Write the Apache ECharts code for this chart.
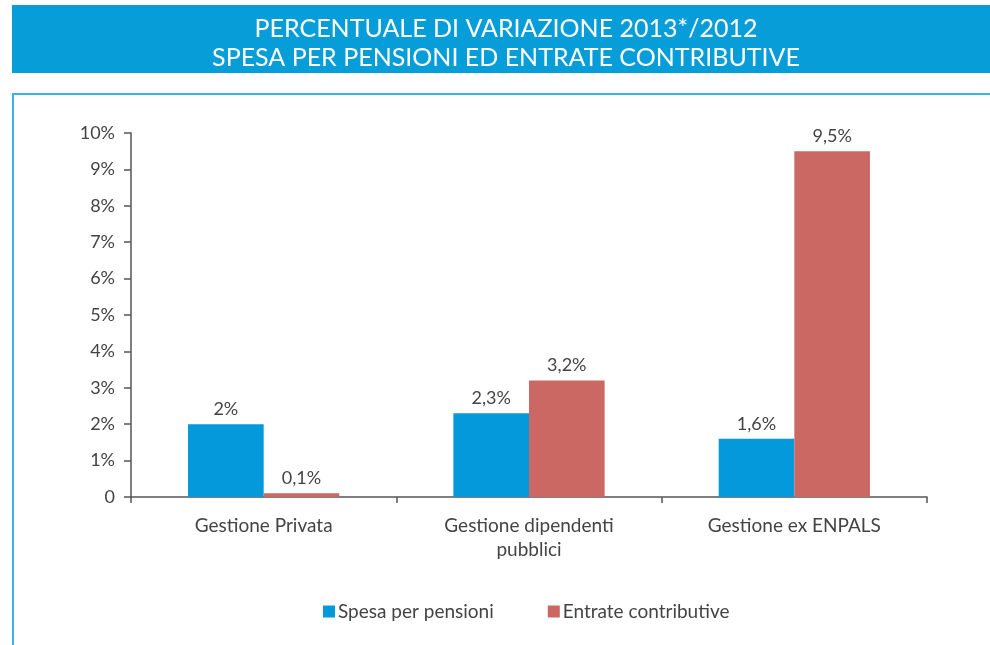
<!DOCTYPE html>
<html>
<head>
    <meta charset="utf-8">
    <title>Percentuale di variazione 2013*/2012</title>
    <script src="https://cdn.jsdelivr.net/npm/echarts@6/dist/echarts.min.js"></script>
    <style>
        html, body { margin: 0; padding: 0; background: #fff; }
        #chart { width: 990px; height: 645px; }
    </style>
</head>
<body>
    <div id="chart"></div>
    <script>
    // dati
    let categorie = ['Gestione Privata', 'Gestione dipendenti\npubblici', 'Gestione ex ENPALS'];
    let spesaPensioni = [2, 2.3, 1.6];
    let entrateContributive = [0.1, 3.2, 9.5];
    let nomiSerie = ['Spesa per pensioni', 'Entrate contributive'];

    let blu = '#0399db';
    let rosso = '#cb6863';
    let grigio = '#444';
    let font = 'Lato, "Open Sans", sans-serif';

    function percentuale(v) {
        return (String(v).replace('.', ',')) + '%';
    }

    let chart = echarts.init(document.getElementById('chart'));
    let option = {
        animation: false,
        textStyle: { fontFamily: font },
        graphic: [
            {
                type: 'rect',
                shape: { x: 12, y: 5, width: 980, height: 68 },
                style: { fill: '#079dd9' },
                z: -1
            },
            {
                type: 'rect',
                shape: { x: 13, y: 94, width: 990, height: 600 },
                style: { fill: 'none', stroke: '#3db2e6', lineWidth: 2 },
                z: -1
            }
        ],
        title: {
            text: 'PERCENTUALE DI VARIAZIONE 2013*/2012\nSPESA PER PENSIONI ED ENTRATE CONTRIBUTIVE',
            left: 501,
            top: 9,
            textAlign: 'center',
            textStyle: {
                color: '#fff',
                fontSize: 25,
                fontWeight: 'normal',
                lineHeight: 29,
                fontFamily: font
            }
        },
        legend: {
            data: nomiSerie,
            top: 597,
            left: 318,
            itemWidth: 12,
            itemHeight: 12,
            itemGap: 54,
            icon: 'rect',
            textStyle: { fontSize: 19, color: grigio, fontFamily: font, padding: [0, 0, 0, -2] }
        },
        grid: { left: 131, right: 63, top: 133, bottom: 148 },
        xAxis: {
            type: 'category',
            data: categorie,
            axisLine: { lineStyle: { color: '#555', width: 1.5 } },
            axisTick: { show: true, length: 6, lineStyle: { color: '#555', width: 1.5 } },
            axisLabel: { color: grigio, fontSize: 19, margin: 17, lineHeight: 24, interval: 0 }
        },
        yAxis: {
            type: 'value',
            min: 0,
            max: 10,
            interval: 1,
            splitLine: { show: false },
            axisLine: { show: true, lineStyle: { color: '#555', width: 1.5 } },
            axisTick: { show: true, length: 7, lineStyle: { color: '#555', width: 1.5 } },
            axisLabel: {
                color: grigio,
                fontSize: 18,
                margin: 16,
                formatter: function (v) { return v === 0 ? '0' : v + '%'; }
            }
        },
        series: [
            {
                name: nomiSerie[0],
                type: 'bar',
                data: spesaPensioni,
                barGap: 0,
                barCategoryGap: '43%',
                itemStyle: { color: blu },
                label: {
                    show: true,
                    position: 'top',
                    distance: 6,
                    color: grigio,
                    fontSize: 18,
                    formatter: function (p) { return percentuale(p.value); }
                }
            },
            {
                name: nomiSerie[1],
                type: 'bar',
                data: entrateContributive,
                barGap: 0,
                barCategoryGap: '43%',
                itemStyle: { color: rosso },
                label: {
                    show: true,
                    position: 'top',
                    distance: 6,
                    color: grigio,
                    fontSize: 18,
                    formatter: function (p) { return percentuale(p.value); }
                }
            }
        ]
    };
    chart.setOption(option);
    </script>
</body>
</html>
